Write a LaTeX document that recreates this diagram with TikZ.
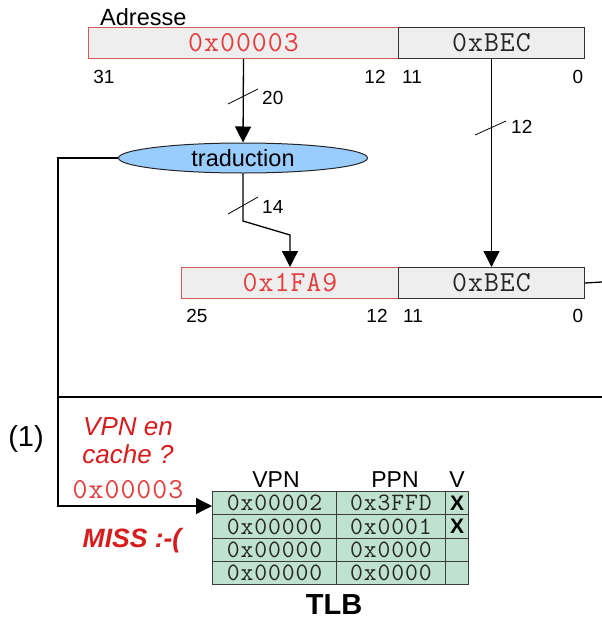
\documentclass[tikz,border=0pt]{standalone}
\usepackage{fontspec}
\setmainfont{Liberation Sans}
\setmonofont{Latin Modern Mono}[LetterSpace=3.5]
\usetikzlibrary{shapes.geometric,arrows.meta}
\definecolor{boxfill}{RGB}{238,238,238}
\definecolor{redborder}{RGB}{215,90,90}
\definecolor{redmono}{RGB}{228,60,60}
\definecolor{reditalic}{RGB}{214,28,28}
\definecolor{ellfill}{RGB}{153,204,255}
\definecolor{tlbfill}{RGB}{190,226,205}
\definecolor{tlbline}{RGB}{60,60,60}
\tikzset{
  fieldred/.style={draw=redborder, fill=boxfill, line width=1pt, inner sep=0pt, anchor=north west,
    minimum height=31pt, font=\fontsize{29}{30}\selectfont\ttfamily, text=redmono},
  fieldgray/.style={draw=black!80, fill=boxfill, line width=1pt, inner sep=0pt, anchor=north west,
    minimum height=31pt, font=\fontsize{29}{30}\selectfont\ttfamily, text=black!85},
  bitlbl/.style={font=\fontsize{19}{21}\selectfont, inner sep=0pt, anchor=base},
  arr/.style={line width=1.3pt, -{Triangle[width=16pt,length=16pt]}},
  wire/.style={line width=1.3pt},
  slash/.style={line width=0.8pt},
  buslbl/.style={font=\fontsize{19}{21}\selectfont, inner sep=0pt, anchor=west},
  cell/.style={draw=tlbline, fill=tlbfill, line width=1pt, inner sep=0pt, anchor=north west,
    minimum height=23.25pt, font=\fontsize{25}{24}\selectfont\ttfamily, text=black!85},
  vmark/.style={font=\fontsize{21}{22}\selectfont\bfseries, inner sep=0pt},
  hdr/.style={font=\fontsize{23}{24}\selectfont, inner sep=0pt, anchor=base},
  redit/.style={font=\fontsize{26}{28}\selectfont\itshape, text=reditalic, inner sep=0pt, anchor=base},
}
\begin{document}
\begin{tikzpicture}[x=1pt,y=-1pt]
\useasboundingbox (0,0) rectangle (602,637);

% top address
\node[font=\fontsize{23.5}{26}\selectfont, inner sep=0pt, anchor=base west] (adr) at (100,25) {Adresse};
\node[fieldred, minimum width=310pt] (t1) at (88,27) {0x00003};
\node[fieldgray, minimum width=186pt] (t2) at (398,27) {0xBEC};
\node[bitlbl] (l31) at (104,83) {31};
\node[bitlbl] (l12a) at (375,83) {12};
\node[bitlbl] (l11a) at (412,83) {11};
\node[bitlbl] (l0a) at (578,83) {0};

% traduction
\node[ellipse, draw=black!85, fill=ellfill, line width=1pt, inner sep=0pt,
      minimum width=249pt, minimum height=30pt, text height=17pt, text depth=0pt,
      font=\fontsize{23.5}{26}\selectfont] (trad) at (243,158) {traduction};

% bottom address
\node[fieldred, minimum width=217pt] (b1) at (181,267) {0x1FA9};
\node[fieldgray, minimum width=186pt] (b2) at (398,267) {0xBEC};
\node[bitlbl] (l25) at (197,322) {25};
\node[bitlbl] (l12b) at (377,322) {12};
\node[bitlbl] (l11b) at (413,322) {11};
\node[bitlbl] (l0b) at (578,322) {0};

% connectors
\draw[arr] (t1.south) -- (trad.north);
\draw[slash] (228,104) -- (258,89);
\node[buslbl] (n20) at (262,98) {20};

\draw[arr] (t2.south) -- (b2.north);
\draw[slash] (475,135) -- (506,121);
\node[buslbl] (n12) at (511,127) {12};

\coordinate (k1) at (243,221);
\path (b1.north) ++(0,-32) coordinate (k2);
\draw[arr] (trad.south) -- (k1) -- (k2) -- (b1.north);
\draw[slash] (228,214) -- (258,197);
\node[buslbl] (n14) at (262,207) {14};

\coordinate (rEdge) at (602,282);
\draw[wire] (b2.east) -- (rEdge);

\coordinate (c1) at (58,158);
\coordinate (hL) at (58,397);
\coordinate (hR) at (602,397);
\draw[wire] (hL) -- (hR);

% TLB
\foreach \r/\y/\vpn/\ppn/\v in {1/491/0x00002/0x3FFD/X, 2/514.25/0x00000/0x0001/X, 3/537.5/0x00000/0x0000/, 4/560.75/0x00000/0x0000/}{
  \node[cell, minimum width=124pt] (vpn\r) at (212,\y) {\vpn};
  \node[cell, minimum width=109pt] (ppn\r) at (336,\y) {\ppn};
  \node[cell, minimum width=23pt] (v\r) at (445,\y) {};
  \node[vmark] (vx\r) at (v\r.center) {\v};
}
\node[hdr] (hvpn) at (276,487) {VPN};
\node[hdr] (hppn) at (395,487) {PPN};
\node[hdr] (hv) at (457,487) {V};
\node[font=\fontsize{29}{32}\selectfont\bfseries, inner sep=0pt] (tlb) at (334,605) {TLB};

\coordinate (c2) at (58,506);
\draw[arr] (trad.west) -- (c1) -- (c2) -- (vpn1.west |- c2);

% texts
\node[font=\fontsize{29}{32}\selectfont, inner sep=0pt] (one) at (26,439) {(1)};
\node[redit] (q1) at (128,435) {VPN en};
\node[redit] (q2) at (128,463) {cache ?};
\node[font=\fontsize{29}{30}\selectfont\ttfamily, text=redmono, inner sep=0pt, anchor=base] (q3) at (128,498) {0x00003};
\node[redit, font=\fontsize{26.5}{28}\selectfont\bfseries\itshape] (miss) at (132,547) {MISS :-(};
\end{tikzpicture}
\end{document}
